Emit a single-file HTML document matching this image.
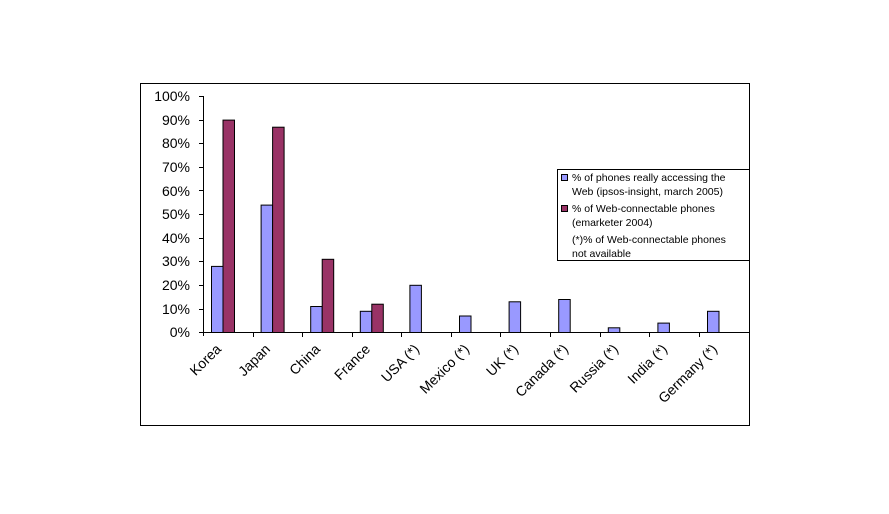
<!DOCTYPE html>
<html><head><style>body{margin:0;background:#fff}</style></head><body>
<svg width="889" height="509" xmlns="http://www.w3.org/2000/svg" font-family="Liberation Sans, Arial, sans-serif">
<rect x="140.5" y="83.5" width="609" height="342" fill="#fff" stroke="#000"/>
<g font-size="14" text-anchor="end">
<text x="190" y="101">100%</text><text x="190" y="125">90%</text><text x="190" y="148">80%</text><text x="190" y="172">70%</text><text x="190" y="196">60%</text><text x="190" y="219">50%</text><text x="190" y="243">40%</text><text x="190" y="266">30%</text><text x="190" y="290">20%</text><text x="190" y="314">10%</text><text x="190" y="337">0%</text>
</g>
<g stroke="#000">
<line x1="203.5" y1="96" x2="203.5" y2="336"/>
<line x1="199" y1="96.5" x2="203" y2="96.5"/><line x1="199" y1="120.5" x2="203" y2="120.5"/><line x1="199" y1="143.5" x2="203" y2="143.5"/><line x1="199" y1="167.5" x2="203" y2="167.5"/><line x1="199" y1="190.5" x2="203" y2="190.5"/><line x1="199" y1="214.5" x2="203" y2="214.5"/><line x1="199" y1="238.5" x2="203" y2="238.5"/><line x1="199" y1="261.5" x2="203" y2="261.5"/><line x1="199" y1="285.5" x2="203" y2="285.5"/><line x1="199" y1="309.5" x2="203" y2="309.5"/><line x1="199" y1="332.5" x2="203" y2="332.5"/>
<line x1="203" y1="332.5" x2="749" y2="332.5"/>
<line x1="253.5" y1="332" x2="253.5" y2="337"/><line x1="302.5" y1="332" x2="302.5" y2="337"/><line x1="352.5" y1="332" x2="352.5" y2="337"/><line x1="401.5" y1="332" x2="401.5" y2="337"/><line x1="451.5" y1="332" x2="451.5" y2="337"/><line x1="500.5" y1="332" x2="500.5" y2="337"/><line x1="550.5" y1="332" x2="550.5" y2="337"/><line x1="600.5" y1="332" x2="600.5" y2="337"/><line x1="649.5" y1="332" x2="649.5" y2="337"/><line x1="699.5" y1="332" x2="699.5" y2="337"/><line x1="749.5" y1="332" x2="749.5" y2="337"/>
</g>
<g stroke="#000" fill="#9999ff">
<rect x="211.5" y="266.4" width="11.5" height="66.1"/>
<rect x="261.1" y="205.1" width="11.5" height="127.4"/>
<rect x="310.7" y="306.5" width="11.5" height="26"/>
<rect x="360.3" y="311.3" width="11.5" height="21.2"/>
<rect x="409.9" y="285.3" width="11.5" height="47.2"/>
<rect x="459.5" y="316" width="11.5" height="16.5"/>
<rect x="509.1" y="301.8" width="11.5" height="30.7"/>
<rect x="558.7" y="299.5" width="11.5" height="33"/>
<rect x="608.3" y="327.8" width="11.5" height="4.7"/>
<rect x="657.9" y="323.1" width="11.5" height="9.4"/>
<rect x="707.5" y="311.3" width="11.5" height="21.2"/>
</g>
<g stroke="#000" fill="#993366">
<rect x="223" y="120.1" width="11.5" height="212.4"/>
<rect x="272.6" y="127.2" width="11.5" height="205.3"/>
<rect x="322.2" y="259.3" width="11.5" height="73.2"/>
<rect x="371.8" y="304.2" width="11.5" height="28.3"/>
</g>
<g font-size="14" text-anchor="end">
<text transform="translate(222,350) rotate(-45)">Korea</text>
<text transform="translate(271,350) rotate(-45)">Japan</text>
<text transform="translate(321,350) rotate(-45)">China</text>
<text transform="translate(371,350) rotate(-45)">France</text>
<text transform="translate(420,350) rotate(-45)">USA (*)</text>
<text transform="translate(470,350) rotate(-45)">Mexico (*)</text>
<text transform="translate(519,350) rotate(-45)">UK (*)</text>
<text transform="translate(569,350) rotate(-45)">Canada (*)</text>
<text transform="translate(619,350) rotate(-45)">Russia (*)</text>
<text transform="translate(668,350) rotate(-45)">India (*)</text>
<text transform="translate(718,350) rotate(-45)">Germany (*)</text>
</g>
<rect x="557.5" y="169.5" width="192" height="91" fill="#fff" stroke="#000"/>
<rect x="561.5" y="174.5" width="6" height="6" fill="#9999ff" stroke="#000"/>
<rect x="561.5" y="205.5" width="6" height="6" fill="#993366" stroke="#000"/>
<g font-size="10.5">
<text x="572" y="181">% of phones really accessing the</text>
<text x="572" y="195">Web (ipsos-insight, march 2005)</text>
<text x="572" y="212">% of Web-connectable phones</text>
<text x="572" y="226">(emarketer 2004)</text>
<text x="572" y="243">(*)% of  Web-connectable phones</text>
<text x="572" y="257">not available</text>
</g>
</svg>
</body></html>
